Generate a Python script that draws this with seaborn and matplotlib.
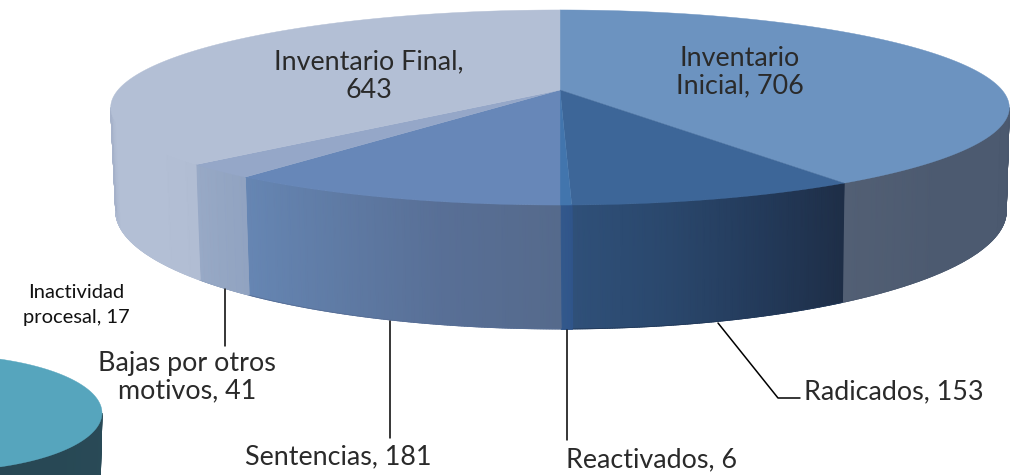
import numpy as np
import seaborn as sns
import matplotlib.pyplot as plt

# Slices of the big pie, clockwise from 12 o'clock
categories = ['Inventario Inicial', 'Radicados', 'Reactivados', 'Sentencias', 'Bajas por otros motivos', 'Inventario Final']
values = [706, 153, 6, 181, 41, 643]

# Small pie cut off by the corner
small_category = 'Inactividad procesal'
small_values = [17]

top_colors = ['#6c93c0', '#3d6698', '#4275ad', '#6787b8', '#95a7c8', '#b3bfd5']
wall_colors = [
    ['#525f74', '#4c5a70', '#4c5a70', '#4a586e'],
    ['#2f5079', '#2a476c', '#233a5a', '#1e2e47'],
    ['#33598c', '#30558a'],
    ['#6686b3', '#5f7ba5', '#586f96', '#556a8c'],
    ['#98a9c6', '#94a6c3', '#91a3c1'],
    ['#a6b2ca', '#b3bfd5', '#b3bfd5', '#b3bfd5', '#b1bdd3'],
]
small_top_colors = ['#56a5bd']
small_wall_colors = [['#26434f', '#294a57']]


def rim(theta, cx, cy, a, b, k):
    # Circle seen in perspective, theta in degrees clockwise from the back
    t = np.radians(theta)
    w = 1 + k * np.cos(t)
    return cx + a * np.sin(t) / w, cy - b * np.cos(t) / w


def draw_pie(ax, vals, tops, walls, top_rim, low_rim):
    k = top_rim[4]
    edges = np.concatenate([[0], np.cumsum(vals)]) / sum(vals) * 360
    vis0 = np.degrees(np.arccos(-k))
    vis1 = 360 - vis0

    # Side wall first
    for i in range(len(vals)):
        t0, t1 = max(edges[i], vis0), min(edges[i + 1], vis1)
        if t1 <= t0:
            continue
        th = np.linspace(t0, t1, 120)
        x0, y0 = rim(th, *top_rim)
        x1, y1 = rim(th, *low_rim)
        X = np.vstack([x0, x1])
        Y = np.vstack([y0, y1])
        C = np.vstack([np.linspace(1, 0, 120)] * 2)
        cmap = sns.blend_palette(walls[i], as_cmap=True)
        ax.pcolormesh(X, Y, C, cmap=cmap, shading='gouraud', vmin=0, vmax=1)
        # clean edge along the bottom rim
        ax.plot(x1, y1, color=walls[i][len(walls[i]) // 2], lw=0.6)

    # Top face
    for i in range(len(vals)):
        th = np.linspace(edges[i], edges[i + 1], 200)
        x, y = rim(th, *top_rim)
        if len(vals) > 1:
            x = np.concatenate([[top_rim[0]], x])
            y = np.concatenate([[top_rim[1]], y])
        ax.fill(x, y, color=tops[i], lw=0.3)


sns.set_theme(style='white')
plt.rcParams['font.family'] = ['Lato', 'DejaVu Sans']

fig = plt.figure(figsize=(10.17, 4.75), dpi=100)
ax = fig.add_axes([0, 0, 1, 1])
ax.set_xlim(0, 1017)
ax.set_ylim(475, 0)
ax.axis('off')

draw_pie(ax, values, top_colors, wall_colors,
         (560, 90, 442, 94.4, 0.1795), (561, 190, 438, 114, 0.1795))
draw_pie(ax, small_values, small_top_colors, small_wall_colors,
         (-60, 413, 162, 58, 0.0), (-60, 488, 160, 58, 0.0))

# Leader lines
for lx, ly in [([224.5, 224.5], [289, 346]),
               ([390, 390], [321, 438]),
               ([566.5, 566.5], [330, 440]),
               ([718, 778, 800], [323, 398, 398])]:
    ax.plot(lx, ly, color='black', lw=1.1)

# Labels
big = dict(fontsize=19.4, color='#2a2a2a', ha='center', va='center', linespacing=1.15)
ax.text(369, 76, 'Inventario Final,\n' + str(values[5]), **big)
ax.text(740, 72, 'Inventario\nInicial, ' + str(values[0]), **big)
ax.text(187, 377, 'Bajas por otros\nmotivos, ' + str(values[4]), **big)
ax.text(338, 457, categories[3] + ', ' + str(values[3]), **big)
ax.text(651, 460, categories[2] + ', ' + str(values[2]), **big)
ax.text(894, 392, categories[1] + ', ' + str(values[1]), **big)
ax.text(76, 305, 'Inactividad\nprocesal, ' + str(small_values[0]), fontsize=14.5,
        color='#111111', ha='center', va='center', linespacing=1.5)

fig.savefig('out.png', dpi=100)
